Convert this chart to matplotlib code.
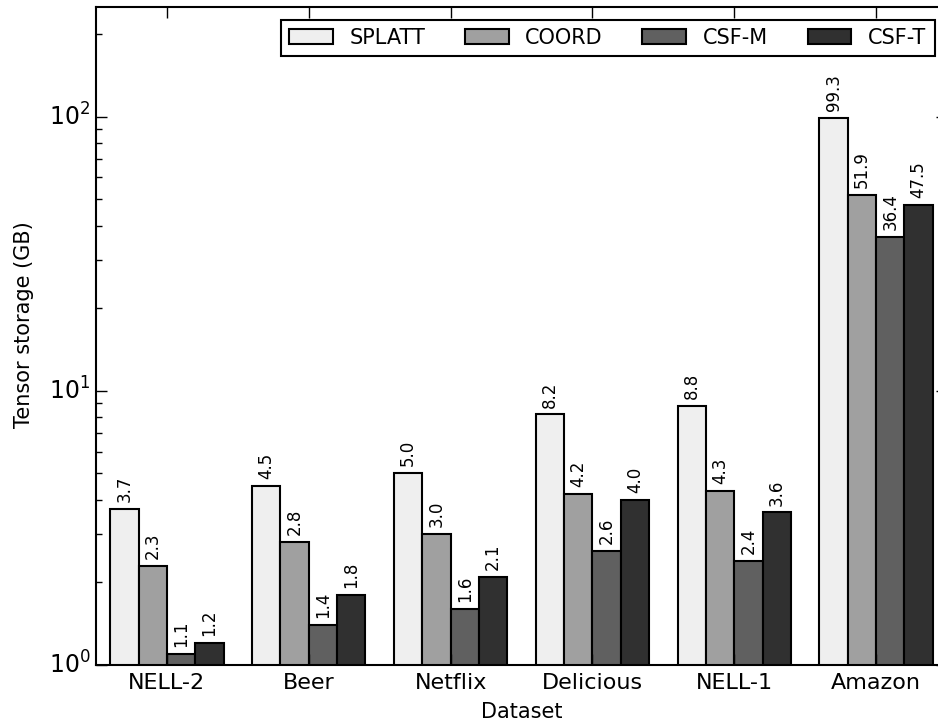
import matplotlib
matplotlib.use("Agg")
import matplotlib.pyplot as plt
import numpy as np

datasets = ["NELL-2", "Beer", "Netflix", "Delicious", "NELL-1", "Amazon"]
formats = ["SPLATT", "COORD", "CSF-M", "CSF-T"]
splatt = [3.7, 4.5, 5.0, 8.2, 8.8, 99.3]
coord = [2.3, 2.8, 3.0, 4.2, 4.3, 51.9]
csf_m = [1.1, 1.4, 1.6, 2.6, 2.4, 36.4]
csf_t = [1.2, 1.8, 2.1, 4.0, 3.6, 47.5]
colors = ["#efefef", "#a0a0a0", "#606060", "#303030"]

plt.style.use("classic")
fig = plt.figure(figsize=(9.38, 7.25), dpi=100, facecolor="white")
ax = fig.add_axes([96 / 938, 60 / 725, 851 / 938, 658 / 725])

x = np.arange(len(datasets))
width = 0.2
for i, (name, vals) in enumerate(zip(formats, [splatt, coord, csf_m, csf_t])):
    pos = x - 0.4 + i * width
    bars = ax.bar(pos, vals, width, align="edge", color=colors[i],
                  edgecolor="black", linewidth=1.5, label=name, log=True)
    for b, v in zip(bars, vals):
        ax.annotate("%.1f" % v, (b.get_x() + b.get_width() / 2, v),
                    xytext=(0, 5), textcoords="offset points",
                    ha="center", va="bottom", rotation=90, fontsize=12)

ax.set_yscale("log")
ax.set_ylim(1, 10 ** 2.4)
ax.set_xlim(-0.5, len(datasets) - 0.5)
ax.set_xticks(x)
ax.set_xticklabels(datasets)
ax.tick_params(axis="x", labelsize=16, length=8, width=1, pad=6)
ax.tick_params(axis="y", which="major", labelsize=17, length=8, width=1)
ax.tick_params(axis="y", which="minor", length=4, width=1)
for s in ax.spines.values():
    s.set_linewidth(1.5)

ax.set_xlabel("Dataset", fontsize=15, labelpad=6)
ax.set_ylabel("Tensor storage (GB)", fontsize=15)
ax.yaxis.set_label_coords(-0.073, 0.517)

leg = ax.legend(loc="upper right", ncol=4, fontsize=15, handlelength=2.1,
                handleheight=0.75, handletextpad=0.8, columnspacing=1.9,
                borderaxespad=0.6, fancybox=False)
leg.get_frame().set_linewidth(1.5)

fig.savefig("out.png", dpi=100, facecolor="white")
